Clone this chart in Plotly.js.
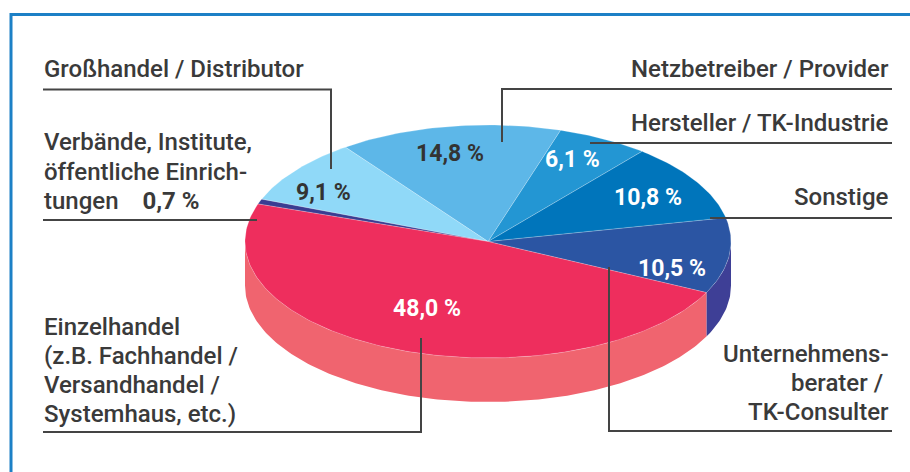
<!DOCTYPE html>
<html>
<head>
<meta charset="utf-8">
<script src="https://cdn.plot.ly/plotly-3.0.1.min.js"></script>
<style>html,body{margin:0;padding:0;background:#fff;}#chart{width:910px;height:472px;}</style>
</head>
<body>
<div id="chart"></div>
<script>
// ---- data (counter-clockwise order, starting at the front-right slice) ----
const categories = [
  "Unternehmensberater / TK-Consulter",
  "Sonstige",
  "Hersteller / TK-Industrie",
  "Netzbetreiber / Provider",
  "Großhandel / Distributor",
  "Verbände, Institute, öffentliche Einrichtungen",
  "Einzelhandel (z.B. Fachhandel / Versandhandel / Systemhaus, etc.)"
];
const values = [10.5, 10.8, 6.1, 14.8, 9.1, 0.7, 48.0];
// label lines as printed
const labelLines = [
  ["Unternehmens-", "berater /\u00a0", "TK-Consulter"],
  ["Sonstige"],
  ["Hersteller / TK-Industrie"],
  ["Netzbetreiber / Provider"],
  ["Großhandel / Distributor"],
  ["Verbände, Institute,", "öffentliche Einrich-", "tungen"],
  ["Einzelhandel", "(z.B. Fachhandel /", "Versandhandel /", "Systemhaus, etc.)"]
];

// ---- styles / positions ----
const topColors  = ["#2b55a3", "#0075bb", "#2396d3", "#5db7e8", "#90d9f8", "#3a3d92", "#ee2e5d"];
const sideColors = ["#3e3f96", "#005f9c", "#1b7fb8", "#4a9fd0", "#78c2e2", "#2d2f7a", "#f0646f"];
const pctColors  = ["#ffffff", "#ffffff", "#ffffff", "#333333", "#333333", "#333333", "#ffffff"];
const pctPos = [[672, 268], [648, 197], [572, 159], [450, 153], [323, 192], null, [427, 308]];
const labelPos = [
  { x: 891, ys: [354, 383, 412], anchor: "right" },
  { x: 891, ys: [197], anchor: "right" },
  { x: 891, ys: [123], anchor: "right" },
  { x: 891, ys: [69], anchor: "right" },
  { x: 42, ys: [69], anchor: "left" },
  { x: 42, ys: [142, 172, 201], anchor: "left" },
  { x: 42, ys: [327, 356, 385, 414], anchor: "left" }
];

const cx = 488, cy = 241.5, rx = 243, ry = 116.5, depth = 44, startAngle = -26;
const FONT = "Roboto, 'Noto Sans', sans-serif";
const TXT = "#3a3a3a";

function pt(tDeg, dy) {
  const t = tDeg * Math.PI / 180;
  return [cx + rx * Math.cos(t), cy - ry * Math.sin(t) + (dy || 0)];
}
function arc(t0, t1, dy) {
  const pts = [];
  const n = Math.max(2, Math.ceil(Math.abs(t1 - t0)));
  for (let i = 0; i <= n; i++) pts.push(pt(t0 + (t1 - t0) * i / n, dy));
  return pts;
}

const total = values.reduce((a, b) => a + b, 0);
const slices = [];
let acc = startAngle;
values.forEach((v, i) => {
  const span = v / total * 360;
  slices.push({ i, t0: acc, t1: acc + span });
  acc += span;
});

const traces = [];
// side faces (front half: 180..360 deg)
slices.forEach(s => {
  [-360, 0, 360].forEach(k => {
    const a = Math.max(s.t0 + k, 180), b = Math.min(s.t1 + k, 360);
    if (b > a) {
      const top = arc(a, b, 0), bot = arc(b, a, depth);
      const all = top.concat(bot);
      all.push(top[0]);
      traces.push({
        type: "scatter", mode: "lines", fill: "toself",
        x: all.map(p => p[0]), y: all.map(p => p[1]),
        fillcolor: sideColors[s.i], line: { width: 0, color: sideColors[s.i] },
        hoverinfo: "skip", showlegend: false
      });
    }
  });
});
// top faces
slices.forEach(s => {
  const pts = [[cx, cy]].concat(arc(s.t0, s.t1, 0));
  pts.push([cx, cy]);
  traces.push({
    type: "scatter", mode: "lines", fill: "toself",
    x: pts.map(p => p[0]), y: pts.map(p => p[1]),
    fillcolor: topColors[s.i], line: { width: 0.6, color: "rgba(255,255,255,0.35)" },
    name: categories[s.i], hoverinfo: "name", showlegend: false
  });
});

const fmt = v => v.toFixed(1).replace(".", ",") + " %";

const annotations = [];
values.forEach((v, i) => {
  if (!pctPos[i]) return;
  annotations.push({
    x: pctPos[i][0], y: pctPos[i][1], xref: "x", yref: "y",
    text: "<b>" + fmt(v) + "</b>", showarrow: false,
    xanchor: "center", yanchor: "middle",
    font: { family: FONT, size: 23, color: pctColors[i] }
  });
});

labelLines.forEach((lines, i) => {
  const p = labelPos[i];
  lines.forEach((line, j) => {
    let text = line;
    if (i === 5 && j === lines.length - 1) text = line + "\u00a0\u00a0\u00a0\u00a0<b>" + fmt(values[5]) + "</b>";
    annotations.push({
      x: p.x, y: p.ys[j], xref: "x", yref: "y", text: text, showarrow: false,
      xanchor: p.anchor, yanchor: "middle", align: p.anchor,
      font: { family: FONT, size: 24, color: TXT, weight: 500 }
    });
  });
});

const L = { color: "#444444", width: 2 };
function path(d) { return { type: "path", xref: "x", yref: "y", path: d, line: L }; }
const shapes = [
  // frame
  { type: "path", xref: "x", yref: "y", path: "M 11,472 L 11,14.5 L 912,14.5", line: { color: "#1c80c6", width: 3 } },
  path("M 43,89.5 L 331,89.5 L 331,169"),
  path("M 43,220 L 257,220"),
  path("M 43,432 L 421,432 L 421,338"),
  path("M 892,89 L 502,89 L 502,142"),
  path("M 892,143 L 590,143"),
  path("M 892,218 L 710,218"),
  path("M 892,431 L 609,431 L 609,267")
];

const layout = {
  width: 910, height: 472, autosize: false,
  margin: { l: 0, r: 0, t: 0, b: 0, pad: 0 },
  paper_bgcolor: "#ffffff", plot_bgcolor: "#ffffff",
  xaxis: { range: [0, 910], visible: false, fixedrange: true },
  yaxis: { range: [472, 0], visible: false, fixedrange: true },
  showlegend: false, annotations: annotations, shapes: shapes
};
Plotly.newPlot("chart", traces, layout, { displayModeBar: false, responsive: false });
</script>
</body>
</html>
